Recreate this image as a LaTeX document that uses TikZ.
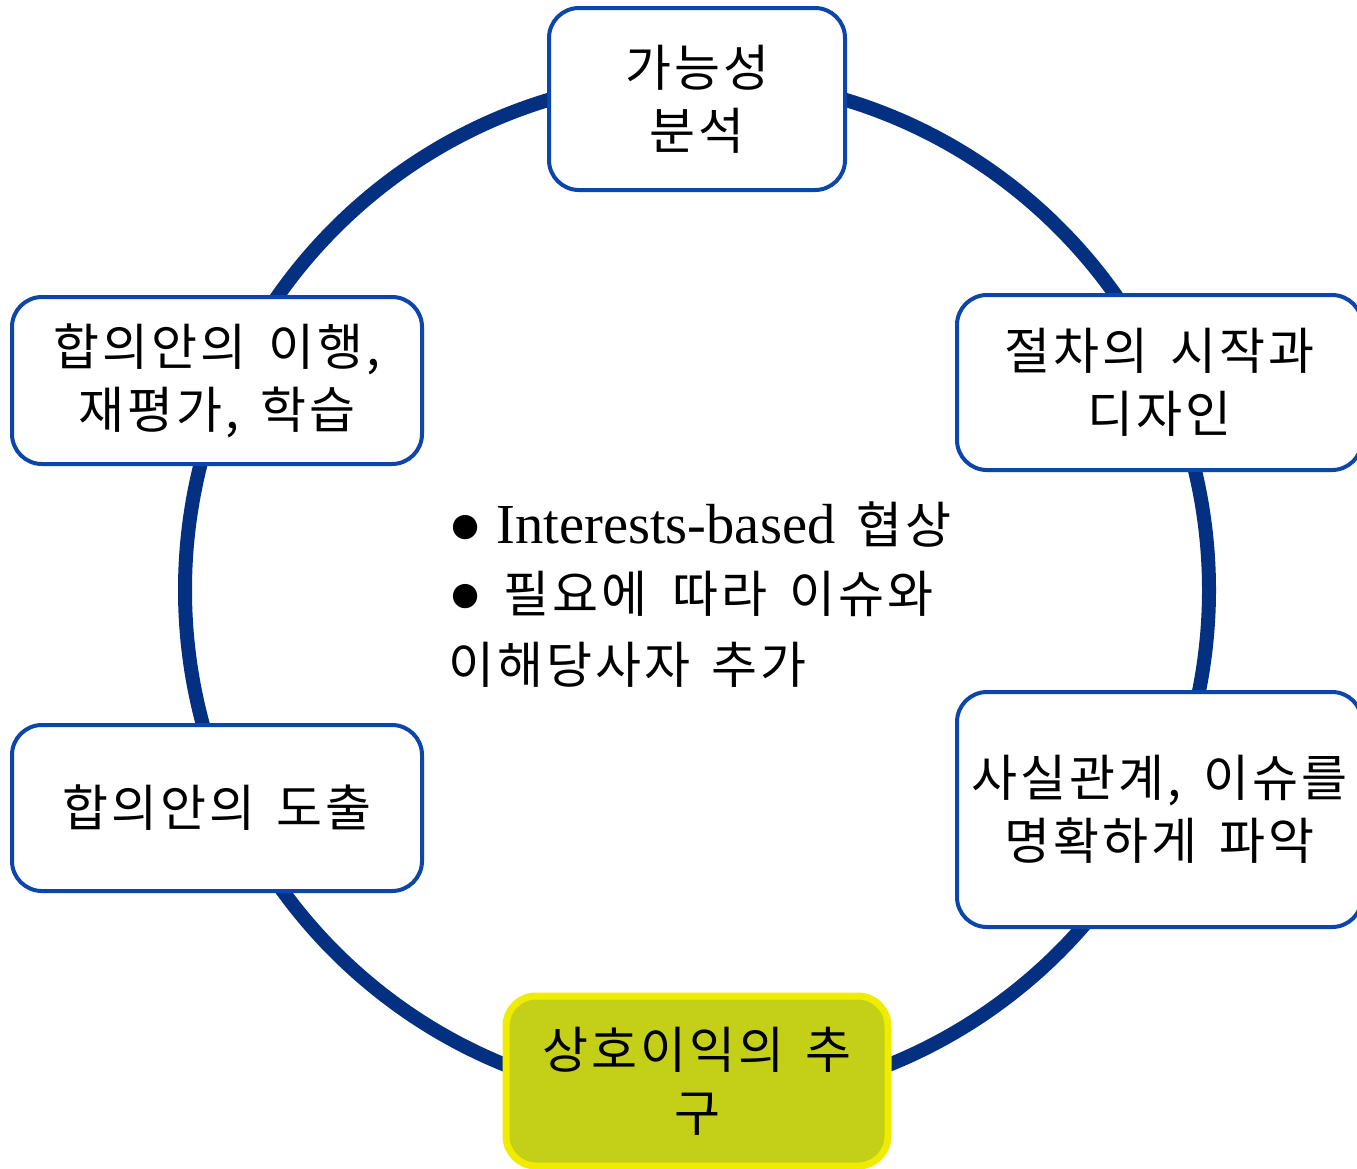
\documentclass[tikz,border=0pt]{standalone}
\usepackage{fontspec}
\setmainfont{Noto Sans CJK KR}[WordSpace=1.5, LetterSpace=6]
\newfontfamily\latinf{Liberation Serif}[Scale=1.13]
\definecolor{ringblue}{RGB}{4,48,130}
\definecolor{boxblue}{RGB}{12,70,170}
\definecolor{hlborder}{RGB}{240,236,0}
\definecolor{hlfill}{RGB}{196,208,24}
\begin{document}
\begin{tikzpicture}[x=1pt,y=-1pt,
  stage/.style={draw=boxblue, line width=4pt, fill=white, rounded corners=30pt,
    align=center, inner sep=0pt, font=\fontsize{50}{63}\selectfont},
  hlstage/.style={stage, draw=hlborder, fill=hlfill, line width=7pt},
  centertext/.style={anchor=base west, inner sep=0pt, font=\fontsize{50}{70}\selectfont}]
\useasboundingbox (0,0) rectangle (1357,1168);
\clip (0,0) rectangle (1357,1168);
\fill[white] (0,0) rectangle (1357,1168);
\coordinate (c) at (697,590);
\draw[ringblue, line width=14pt] (c) circle[radius=512];
\node[stage, minimum width=296pt, minimum height=182pt] (feas) at (697,99) {가능성\\분석};
\node[stage, minimum width=405pt, minimum height=175pt] (proc) at (1159.5,382.5) {절차의 시작과\\디자인};
\node[stage, minimum width=405pt, minimum height=235pt] (facts) at (1159.5,809.5) {사실관계, 이슈를\\명확하게 파악};
\node[hlstage, minimum width=382pt, minimum height=170pt] (mutual) at (697,1081) {상호이익의 추\\구};
\node[stage, minimum width=410pt, minimum height=166pt] (derive) at (217,808) {합의안의 도출};
\node[stage, minimum width=410pt, minimum height=167pt] (impl) at (217,380.5) {합의안의 이행,\\재평가, 학습};
\node[centertext] (l1) at (448,543) {{\latinf ● Interests-based} 협상};
\node[centertext] (l2) at (448,612) {{\latinf ●} 필요에\hspace{4pt} 따라 이슈와};
\node[centertext] (l3) at (448,683) {이해당사자 추가};
\end{tikzpicture}
\end{document}
